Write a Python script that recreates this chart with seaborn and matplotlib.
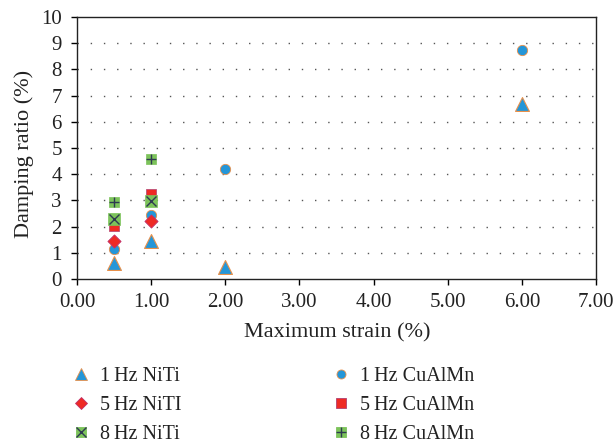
import matplotlib
matplotlib.use("Agg")
import matplotlib.pyplot as plt
from matplotlib.lines import Line2D
import seaborn as sns
import pandas as pd

# ---- data ----
strain_a = [0.5, 1.0, 2.0, 6.0]
strain_b = [0.5, 1.0]
niti_1hz = [0.62, 1.46, 0.45, 6.68]
cualmn_1hz = [1.13, 2.44, 4.20, 8.73]
niti_5hz = [1.46, 2.23]
cualmn_5hz = [2.03, 3.23]
niti_8hz = [2.30, 2.99]
cualmn_8hz = [2.95, 4.57]

x_ticks = [0, 1, 2, 3, 4, 5, 6, 7]
y_ticks = list(range(0, 11))

sns.set_style("ticks")
plt.rcParams['font.family'] = ['Liberation Serif', 'DejaVu Serif']
plt.rcParams['axes.linewidth'] = 1.0

fig = plt.figure(figsize=(6.13, 4.43), dpi=100)
ax = fig.add_axes([77/613, 1-279/443, (596-77)/613, (279-17)/443])

blue = "#2496D8"
orange = "#E8904A"
red = "#EE2A24"
green = "#7CC35A"
dark = "#2E3A50"

df = lambda x, y: pd.DataFrame({"x": x, "y": y})

sns.scatterplot(data=df(strain_a, niti_1hz), x="x", y="y", marker="^", s=100,
                color=blue, edgecolor=orange, linewidth=0.8, ax=ax, zorder=3)
sns.scatterplot(data=df(strain_a, cualmn_1hz), x="x", y="y", marker="o", s=55,
                color=blue, edgecolor=orange, linewidth=0.6, ax=ax, zorder=3)
sns.scatterplot(data=df(strain_b, niti_5hz), x="x", y="y", marker="D", s=45,
                color=red, edgecolor="#C0306A", linewidth=0.6, ax=ax, zorder=3)
sns.scatterplot(data=df(strain_b, cualmn_5hz), x="x", y="y", marker="s", s=55,
                color=red, edgecolor="#B04070", linewidth=0.5, ax=ax, zorder=3)
sns.scatterplot(data=df(strain_b, niti_8hz), x="x", y="y", marker="s", s=66,
                color=green, edgecolor=green, linewidth=0.5, ax=ax, zorder=3)
sns.scatterplot(data=df(strain_b, niti_8hz), x="x", y="y", marker="x", s=52,
                color=dark, linewidth=1.0, ax=ax, zorder=4)
sns.scatterplot(data=df(strain_b, cualmn_8hz), x="x", y="y", marker="s", s=55,
                color=green, edgecolor=green, linewidth=0.5, ax=ax, zorder=3)
sns.scatterplot(data=df(strain_b, cualmn_8hz), x="x", y="y", marker="+", s=52,
                color=dark, linewidth=1.0, ax=ax, zorder=4)

ax.set_xlim(0, 7)
ax.set_ylim(0, 10)
ax.set_xticks(x_ticks)
ax.set_xticklabels([f"{v:.2f}" for v in x_ticks])
ax.set_yticks(y_ticks)
ax.set_yticklabels([str(v) for v in y_ticks])
ax.tick_params(axis="both", direction="out", length=4, width=1.0,
               labelsize=15, colors="black", labelcolor="#222222")
ax.tick_params(axis="y", pad=7)
ax.tick_params(axis="x", pad=6)
for sp in ax.spines.values():
    sp.set_visible(True)
    sp.set_color("#222222")
    sp.set_linewidth(1.0)

for yv in range(1, 10):
    ax.axhline(yv, color="#555555", linewidth=1.0, linestyle=(0, (1, 8.5)), zorder=1)

ax.set_xlabel("Maximum strain (%)", fontsize=16)
ax.set_ylabel("Damping ratio (%)", fontsize=16)
ax.xaxis.label.set_color("#222222")
ax.yaxis.label.set_color("#222222")
ax.xaxis.set_label_coords((337-77)/519, -(333-279)/262)
ax.xaxis.label.set_va("center")
ax.yaxis.set_label_coords(-(77-24)/519, (279-154)/262)
ax.yaxis.label.set_va("center")

def mk(marker, fc, ec, ms, mew=0.6):
    return Line2D([], [], linestyle="none", marker=marker, markerfacecolor=fc,
                  markeredgecolor=ec, markersize=ms, markeredgewidth=mew)

h1 = [mk("^", blue, orange, 8),
      mk("D", red, "#C0306A", 6),
      (mk("s", green, green, 7.5), mk("x", dark, dark, 6.5, 1.0))]
l1 = ["1\u2009Hz NiTi", "5\u2009Hz NiTI", "8\u2009Hz NiTi"]
h2 = [mk("o", blue, orange, 6.5),
      mk("s", red, "#B04070", 7),
      (mk("s", green, green, 7), mk("+", dark, dark, 6.5, 1.0))]
l2 = ["1\u2009Hz CuAlMn", "5\u2009Hz CuAlMn", "8\u2009Hz CuAlMn"]

common = dict(frameon=False, fontsize=14.5, handlelength=1.0, handletextpad=0.45,
              labelspacing=0.48, borderpad=0, borderaxespad=0, labelcolor="#222222")
fig.legend(h1, l1, loc="upper left", bbox_to_anchor=(71/613, 1-367/443), **common)
fig.legend(h2, l2, loc="upper left", bbox_to_anchor=(331/613, 1-367/443), **common)

fig.savefig("out.png", dpi=100)
